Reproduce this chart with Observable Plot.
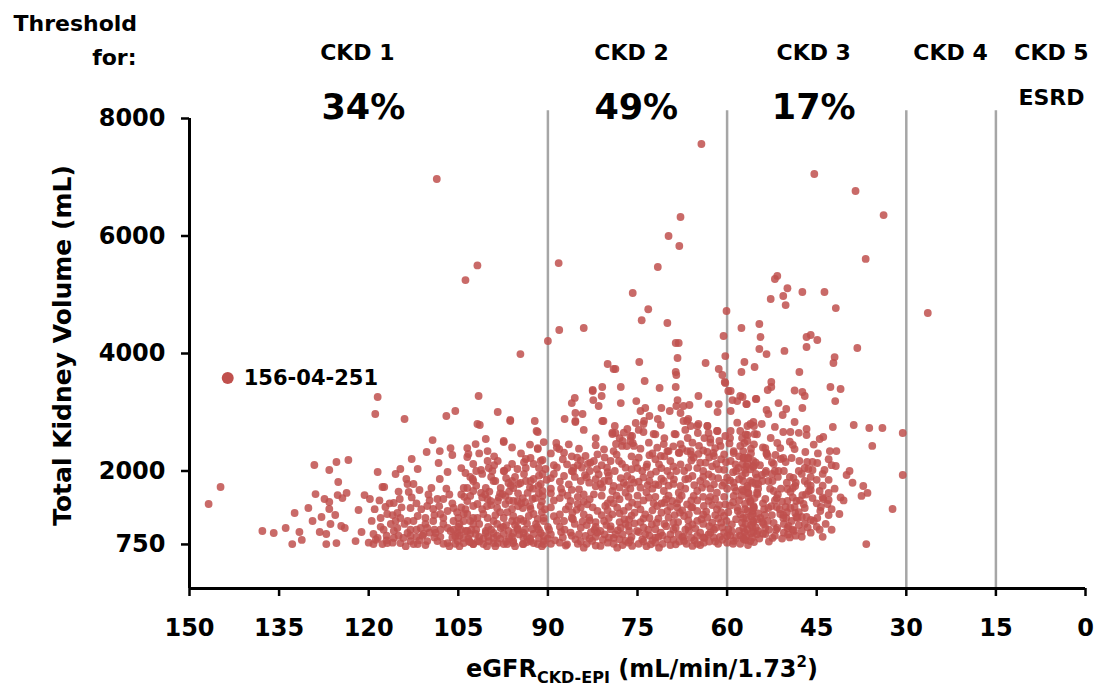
<!DOCTYPE html>
<html><head><meta charset="utf-8">
<script src="https://cdn.jsdelivr.net/npm/d3@7"></script>
<script src="https://cdn.jsdelivr.net/npm/@observablehq/plot@0.6"></script>
<style>html,body{margin:0;padding:0;background:#fff;} svg{display:block;}</style>
</head><body><div id="chart"></div>
<script>
// eGFR (mL/min/1.73²) and total kidney volume (mL)
const patients = [
// upper outliers
[108.6,6970],[101.8,5500],[103.8,5250],[88.2,5540],[88.1,4400],[90.0,4213],[94.6,3991],
[64.3,7566],[45.4,7055],[38.5,6766],[33.8,6357],[67.8,6323],[69.8,6000],[68.0,5830],[71.6,5472],[36.8,5609],[75.8,5030],[51.6,5320],[52.0,5268],[49.9,5111],[47.4,5047],[43.7,5047],[52.7,4928],[50.6,4979],[50.2,4825],[41.8,4774],[73.2,4753],[74.3,4566],[70.0,4519],[60.1,4723],[84.0,4434],[57.6,4434],[54.6,4502],[54.4,4281],[54.6,4077],[53.4,3991],[46.7,4281],[46.0,4315],[44.9,4230],[46.7,4111],[38.2,4094],[42.0,3940],[42.2,3838],[50.4,4043],[60.6,4298],[60.3,3957],[68.6,4179],[68.1,4179],[68.3,3923],[74.7,3855],[80.0,3821],[79.0,3736],[78.7,3736],[63.6,3838],[57.1,3855],[57.6,3685],[55.4,3770],[61.4,3736],[68.6,3685],[68.5,3634],[60.8,3634],[47.9,3685],[73.8,3532],[60.4,3515],[52.6,3515],[52.6,3430],[77.8,3430],[80.9,3430],[82.5,3379],[71.3,3413],[68.6,3430],[42.7,3430],[41.0,3396],[26.4,4689],[59.4,3362],[53.2,3379],
// right side
[38.8,2783],[36.2,2732],[34.0,2732],[30.6,2647],[35.7,2426],[30.6,1932],[37.2,1745],[36.5,1626],[37.5,1575],[32.3,1353],[36.7,757],
[48.7,3370],[47.4,3345],[47.0,3277],[57.4,3260],[55.1,3226],[56.7,3140],[51.4,3157],[41.9,3191],[53.4,3038],[53.1,2970],[50.7,2953],[50.1,3055],[47.4,3072],[48.7,2834],[55.6,2834],[56.1,2800],[56.6,2766],[54.2,2800],[42.3,2749],[46.7,2715],[46.7,2613],[43.9,2579],[44.5,2545],[50.6,2664],[49.4,2664],[55.4,2630],[56.6,2613],[52.7,2562],[42.8,2340],[41.7,2340],[49.0,2443],[48.7,2374],[46.9,2323],[51.6,2477],[53.6,2391],[53.4,2289],[57.1,2477],[41.8,2085],[40.0,1932],[43.7,2017],[44.9,2136],[45.7,2153],[46.6,2153],[47.0,2051],[46.4,2034],[45.7,2017],[47.9,2170],[49.2,2221],[51.0,2204],[51.9,2272],[53.4,2306],[53.2,2255],[50.2,2153],[41.2,1268],[43.0,1626],[43.0,1506],[43.9,1523],[44.5,1660],[46.0,1677],[46.3,1660],[44.3,1387],[44.9,1200],[46.0,1166],[46.7,1217],[47.5,1217],[47.0,1370],[48.4,1217],[48.6,1285],[50.1,1200],[50.6,1251],[48.7,1387],[48.4,1489],[47.4,1591],[48.6,1745],[49.4,1643],[49.9,1694],[49.0,1711],[47.0,1830],[51.7,1540],[51.7,1387],[50.2,1387],[49.7,1064],[52.2,1115],[53.6,1030],[54.1,1132],[55.6,962],[56.9,825],[57.1,962],[57.3,1200],[55.6,1132],[55.7,1268],[55.6,1404],[56.1,1472],[55.4,1540],[56.4,1626],[56.6,1711],[53.7,1251],[53.1,1370],[53.6,1523],[54.8,1779],[54.1,1830],[53.1,1830],[55.2,1949],[54.2,1932],[53.6,1966],[55.6,2068],[56.6,2119],[57.3,2221],
[57.3,2340],[56.4,2221],[57.4,2119],[55.6,2170],[56.9,1966],[56.1,1830],[57.3,1660],[55.2,1779],[56.4,1540],[54.9,1608],[56.6,1319],[55.6,1370],[54.4,1200],[56.9,1098],[55.7,1149],[54.8,979],[53.9,1098],[57.3,860],[56.1,808],[53.6,928],
[51.1,2391],[52.2,2119],[50.6,2221],[52.4,1830],[51.4,2000],[48.9,1881],[52.2,1660],[49.9,1489],[51.1,1268],[49.4,1370],[51.6,1030],[49.9,1030],[52.4,860],[50.6,1200],
[46.5,1779],[45.7,1540],[47.2,1438],[44.4,1319],[43.2,1438],
[54.0,2400],[52.5,2150],[51.5,1900],[50.0,1800],[49.0,1550],[48.0,1300],[47.0,1100],[46.0,950],[45.0,1050],[44.0,880],[52.0,1500],[51.0,1700],[50.5,950],[49.5,870],[48.5,900],[53.0,800],[54.6,850],[52.5,1950],[48.0,2000],[46.0,1900],[44.0,1750],[43.0,1850],[42.0,1700],[41.0,1550],[42.5,1350],[44.8,2300],[43.0,2200],[39.5,2000],[40.5,1500],[39.0,1800],[45.5,2450],[49.5,2500],[48.0,2650],[52.0,2750],
[54.5,2100],[53.5,2000],[52.8,1700],[51.5,1600],[50.8,1480],[50.0,1300],[49.2,1150],[48.0,1080],[47.5,980],[46.5,1040],[45.5,1150],[44.5,1000],[43.5,1100],[54.0,1450],[53.2,1150],[52.5,1250],[51.8,1000],[50.5,1100],[49.0,1000],[48.2,1200],[47.8,1500],[46.8,1600],[45.0,1450],[44.0,1550],[43.0,1250],[42.5,1000],[54.8,1700],[52.0,2000],[50.5,2000],[49.5,1900],[48.5,1800],[47.5,1950],[46.0,1750],[45.0,1850],[44.0,1950],[42.5,2100],[54.8,1280],[53.8,1350],[52.6,1400],[51.2,1350],[55.2,1040],[54.0,930],[53.0,1000],[52.0,900],[50.8,850],[49.8,920],[48.8,980],[47.5,880],
// left side
[146.8,1438],[144.8,1728],[137.8,979],[135.9,945],[133.9,1030],[132.8,757],[131.6,962],[131.2,826],[132.4,1285],[130.1,1370],[129.4,1149],[129.1,2102],[128.9,1608],[127.9,1217],[128.2,962],[127.4,1523],[127.1,928],[127.1,757],[126.6,2017],[126.6,1353],[126.6,1472],[126.4,1098],[125.4,2153],[125.1,1813],[125.6,1251],[125.2,1591],[125.4,774],[124.6,1064],[123.7,1626],[124.0,1030],[123.4,2187],[124.4,1540],[122.2,808],[121.7,1336],[121.2,962],[120.7,1591],[118.5,3260],[118.9,2970],[118.5,1983],[119.8,1523],[119.2,928],[117.7,1728],[117.4,1728],[118.0,1200],[117.7,757],[119.2,757],[117.2,1387],[115.8,1455],[116.3,1098],[115.5,1949],[114.7,2034],[114.8,1523],[114.0,2885],[113.7,1864],[113.5,1779],[113.3,1643],[112.5,1779],[113.0,1370],[112.8,2204],[111.8,2034],[111.5,1677],[111.8,1234],[114.7,1200],[115.2,1030],[115.8,860],[114.7,774],[114.2,860],[113.0,808],[111.8,757],[110.3,2323],[109.3,2527],[108.3,2136],[108.1,2340],[106.8,1983],[107.0,2936],[105.5,3021],[106.3,2391],[106.0,2272],[108.1,1864],[109.5,1711],[110.2,1404],[109.2,1353],[107.5,1523],[108.5,1523],[106.8,1319],[105.8,1370],[105.0,1200],[110.2,1030],[108.8,945],[107.5,1098],[106.3,979],[110.2,808],[108.5,808],[106.8,774],[105.1,808],[104.1,860],[103.5,2391],[103.5,2238],[102.5,2119],[102.1,2459],[101.8,2800],[101.6,3277],[103.8,1966],[103.5,1711],[102.6,1864],[103.0,1575],[102.5,1404],[103.5,1268],[102.5,1098],[103.0,928],[101.8,808],
[116.9,1268],[115.2,1285],[112.5,1149],[111.3,1030],[110.5,1200],[109.2,1149],[108.0,1268],[106.8,1030],[105.8,1149],[104.1,1149],[103.5,979],[115.8,979],[113.5,945],[116.9,774],[112.5,757],[110.8,928],[105.1,945],[102.5,757],
[119.0,1350],[118.0,1050],[117.0,900],[116.0,1250],[115.0,1650],[114.0,1100],[113.0,1000],[112.0,1450],[111.0,900],[110.0,1600],[109.0,1250],[108.0,1000],[107.0,1700],[106.0,1450],[105.0,1050],[104.5,1600],
[120.0,780],[118.5,860],[116.0,780],[113.8,720],[112.0,880],[110.5,740],[109.0,870],[107.5,760],[106.0,870],[104.8,720],
[119.5,1150],[118.2,1500],[117.5,1000],[116.5,1450],[115.5,1150],[114.5,1380],[113.5,1150],[112.8,1550],[112.0,1000],[111.2,1350],[110.5,1100],[109.8,1500],[109.0,1000],[108.2,1400],[107.5,1200],[106.5,1600],[105.8,1000],[105.2,1300],[118.8,830],[117.0,820],[115.0,900],[113.0,900],[111.5,820],[109.8,950],[108.0,880],[106.5,720],[105.5,890],
// 105–88
[100.4,2545],[100.1,2340],[97.4,2493],[96.3,2851],[92.2,2851],[91.9,2681],[90.7,2493],[91.7,2374],[100.1,2170],[99.3,2000],[97.3,2000],[98.8,1830],[97.6,1608],[99.6,1489],[98.5,1370],[97.1,1438],[96.0,2119],[95.1,2034],[93.7,2051],[92.9,2221],[92.4,2119],[91.2,2170],[90.4,2034],[90.9,1949],[96.6,1796],[95.8,1711],[94.9,1779],[93.7,1830],[92.4,1864],[91.6,1745],[93.4,1626],[92.1,1540],[90.9,1660],[95.1,1489],[96.0,1353],[94.2,1370],[92.9,1353],[91.2,1404],[100.1,1200],[99.1,1149],[97.4,1200],[96.0,1149],[94.6,1183],[93.2,1234],[91.7,1183],[90.7,1149],[100.4,979],[99.1,945],[97.9,1030],[96.6,979],[95.1,1030],[94.1,945],[92.6,1013],[91.2,945],[99.9,808],[98.4,774],[96.8,757],[95.8,808],[94.2,757],[92.9,808],[91.7,757],[90.7,808],
[103.3,2289],[98.4,2170],[97.4,2000],[93.7,2204],[91.7,2391],[90.9,2187],[101.2,2017],[99.9,2051],[102.5,1830],[104.1,1711],[102.5,1660],[101.2,1626],[100.4,1711],[99.1,1830],[97.9,1711],[96.0,1830],[94.6,1796],[92.9,1830],[91.2,1779],[103.5,1489],[101.8,1438],[100.1,1523],[98.4,1489],[97.1,1574],[95.8,1489],[94.2,1540],[92.6,1523],[90.9,1574],[104.1,1268],[102.5,1200],[100.8,1268],[95.8,1234],[94.1,1149],[92.4,1268],[90.7,1200],[103.8,979],[102.1,928],[100.4,945],[99.1,860],[97.4,928],[95.8,945],[94.1,860],[92.4,928],[90.7,894],[104.1,774],[102.5,757],[100.8,757],[99.1,774],[97.4,757],[95.8,774],[94.1,757],[92.4,774],[90.7,757],
[104.5,2050],[101.5,2300],[99.0,2250],[96.0,2400],[94.5,2300],[93.0,2450],[89.5,2300],[89.0,2100],
[103.0,1900],[101.0,1950],[99.5,1900],[97.0,1880],[95.5,1900],[94.0,1950],[91.5,1920],[89.5,1880],
[104.0,1560],[102.0,1750],[100.5,1600],[98.0,1620],[96.5,1650],[95.0,1620],[93.0,1720],[91.5,1620],[89.5,1700],[89.0,1500],
[104.5,1380],[101.0,1350],[99.5,1420],[98.0,1300],[96.5,1500],[95.0,1400],[93.8,1470],[91.0,1300],[89.5,1380],
[103.0,1150],[101.5,1100],[100.0,1050],[98.5,1100],[97.0,1080],[95.5,1080],[93.5,1110],[92.0,1100],[90.0,1050],[89.0,1230],
[104.8,900],[103.3,850],[101.5,880],[100.0,880],[98.5,900],[96.0,880],[94.8,920],[93.5,880],[91.5,860],[89.5,920],
[105.5,760],[103.0,790],[101.5,800],[100.2,720],[98.8,720],[97.0,800],[95.5,720],[93.5,790],[91.0,720],[89.5,760],
[104.8,1100],[103.8,1350],[102.8,1000],[101.8,1200],[101.0,1550],[100.2,1400],[99.8,1650],[98.8,1250],[98.2,1550],[97.5,1050],[96.8,1300],[96.2,1750],[95.2,1150],[94.5,1450],[93.8,1000],[93.0,1400],[92.5,1700],[91.8,1050],[91.0,1480],[90.5,1350],[89.8,1000],[90.2,1850],[89.5,1620],[91.5,2050],[94.0,2150],[96.8,2050],[99.0,2100],[102.0,2000],
[104.6,1000],[103.2,800],[102.0,1000],[100.8,850],[99.5,1000],[98.0,850],[96.5,850],[95.0,1000],[93.0,850],[91.5,1000],[90.0,850],
// 90–55 upper
[98.4,3004],[101.4,2783],[96.3,2868],[91.7,2664],[97.4,2511],[88.6,2477],[88.1,2374],[87.2,2885],[85.5,3243],[86.0,3157],[85.4,2987],[84.2,2970],[85.4,2834],[82.5,3362],[82.4,3208],[81.0,3277],[81.5,3106],[77.8,3157],[80.7,2851],[78.8,2766],[78.7,2647],[79.2,2630],[76.7,2715],[76.2,2596],[77.5,2511],[75.8,2477],[76.8,2425],[75.2,3191],[73.7,3072],[74.5,3021],[73.0,2936],[75.3,2817],[74.0,2800],[74.0,2664],[72.3,2630],[68.3,3208],[71.0,3072],[68.5,3106],[69.6,3021],[67.8,2987],[67.3,3106],[66.3,3123],[66.5,2885],[67.3,2851],[64.8,3277],[63.1,3140],[61.4,3140],[61.6,3004],[60.3,3498],[71.6,2885],[71.1,2783],[68.8,2630],[66.1,2766],[64.8,2800],[63.3,2766],[64.9,2647],[63.1,2647],[61.6,2681],[61.3,2511],[62.8,2545],[70.6,2459],[69.8,2340],[67.8,2459],[66.6,2562],[68.0,2306],[66.1,2340],[63.3,2323],[62.3,2306],[59.8,3362],[57.8,3277],[58.3,3191],[56.8,3140],[55.2,3226],[59.1,3208],[59.4,3021],[57.8,2681],[59.4,2681],[58.9,2306],[56.6,2221],[55.6,2085],[58.1,2051],
// 88–55 dense band
[85.4,2851],[80.9,2851],[79.2,2652],[77.3,2652],[75.9,2596],[73.9,2851],[72.0,2624],[68.6,2624],[66.7,2851],[65.0,2766],[63.3,2766],[61.7,2681],[60.3,2596],[58.3,2823],[56.9,2624],[55.5,2766],[55.0,2624],
[84.0,2700],[82.0,2560],[78.0,2560],[74.8,2700],[70.5,2560],[67.0,2700],[63.8,2560],[59.5,2560],[57.5,2560],
[86.5,2454],[87.3,2312],[83.7,2255],[82.3,2170],[80.6,2369],[79.0,2340],[77.6,2426],[76.2,2511],[75.6,2426],[73.1,2482],[71.7,2397],[71.1,2255],[70.0,2340],[68.1,2312],[66.7,2340],[65.8,2482],[64.7,2426],[62.8,2482],[61.1,2426],[60.5,2284],[58.9,2340],[57.8,2426],[56.6,2511],[55.5,2454],
[88.5,2400],[84.8,2380],[82.0,2440],[78.6,2460],[74.5,2380],[72.5,2300],[69.0,2420],[67.5,2380],[64.0,2350],[62.0,2390],[59.6,2470],[56.0,2380],
[86.0,2250],[84.5,2180],[80.5,2230],[78.5,2280],[76.0,2250],[72.0,2200],[70.5,2250],[66.0,2180],[64.8,2290],[61.0,2200],[58.0,2250],[56.0,2300],
[86.8,2113],[85.1,2227],[84.3,2057],[81.7,2284],[79.5,2170],[77.0,2057],[74.8,2227],[73.4,2113],[69.5,2170],[67.8,2113],[65.6,2227],[63.6,2142],[62.2,2255],[59.4,2170],[57.2,2227],[55.2,2142],
[87.5,2200],[85.0,2100],[83.3,2120],[81.8,2030],[80.0,1980],[77.6,2120],[75.0,2050],[73.0,2270],[71.0,2050],[68.5,2000],[66.0,2280],[65.0,2050],[63.0,2230],[61.8,2120],[60.2,2150],[58.5,2000],[57.0,2020],
[88.5,2060],[86.0,2000],[83.0,2000],[81.0,2100],[78.8,2000],[76.0,2030],[73.5,2070],[71.9,1990],[69.0,2080],[66.5,2060],[64.0,2000],[62.5,2080],[60.5,2020],[59.0,1980],[56.8,2080],
[87.3,1915],[85.7,2057],[84.5,1830],[82.9,2142],[81.5,1943],[80.1,2057],[78.1,2170],[76.7,1915],[75.3,2142],[74.2,2000],[72.8,1943],[71.4,2113],[70.0,2000],[68.9,1858],[67.2,2000],[65.8,1915],[64.5,2142],[63.1,1943],[61.4,2028],[60.0,1887],[58.6,2113],[57.5,1915],[56.1,2028],[55.0,1887],
[85.8,1990],[83.8,1930],[81.2,1780],[79.8,1830],[77.3,1800],[74.8,1820],[73.0,1830],[71.5,1760],[69.0,1780],[67.0,1860],[65.5,1760],[63.5,1780],[62.5,1900],[60.5,1800],[58.8,1720],[57.3,1830],
[88.0,1820],[85.5,1900],[83.5,1890],[82.0,1860],[79.8,1920],[77.8,1880],[76.0,1860],[74.0,1890],[71.0,1870],[69.5,1920],[66.5,1870],[64.0,1900],[61.5,1880],[59.5,1840],[58.0,1860],[55.8,1800],
[86.5,1773],[83.1,1801],[80.6,1830],[79.0,1745],[75.6,1801],[72.0,1773],[70.6,1830],[67.8,1745],[64.5,1830],[62.2,1773],[58.9,1801],[56.6,1745],
[86.0,1680],[84.0,1600],[82.0,1740],[79.2,1660],[78.0,1720],[76.2,1700],[73.5,1640],[72.5,1700],[69.8,1580],[67.0,1700],[65.0,1660],[62.8,1700],[60.0,1700],[58.5,1660],[56.5,1620],
[87.6,1631],[86.2,1490],[84.8,1688],[83.4,1433],[82.3,1603],[80.9,1716],[79.5,1518],[78.4,1376],[77.0,1631],[75.9,1461],[74.5,1716],[73.1,1546],[71.7,1404],[70.6,1660],[69.2,1490],[68.1,1631],[66.7,1433],[65.6,1575],[64.2,1716],[63.1,1490],[61.7,1631],[60.3,1433],[58.9,1575],[57.5,1688],[56.1,1490],[55.0,1631],
[89.0,1950],[87.8,1700],[86.7,1580],[85.2,1340],[84.0,1480],[83.0,1160],[82.2,1000],[81.0,1250],[80.0,1450],[79.5,1010],[78.5,1580],[77.2,1180],[76.8,1760],[75.5,1290],[75.0,1580],[74.0,1190],[73.3,1760],[72.3,1450],[71.5,1190],[70.2,1520],[69.8,1750],[68.8,1250],[68.4,1450],[67.6,1580],[66.4,1260],[65.8,1380],[65.0,1500],[64.3,1180],[63.5,1310],[62.8,1560],[62.0,1250],[61.3,1420],[60.8,1750],[60.1,1150],[59.0,1470],[58.2,1320],[57.6,1580],[56.8,1200],[55.5,1380],
[88.0,1540],[85.0,1560],[83.0,1520],[81.0,1580],[78.0,1520],[76.5,1560],[74.0,1500],[72.0,1560],[70.5,1460],[68.0,1520],[66.0,1500],[64.0,1560],[62.0,1520],[60.5,1560],[58.0,1500],[57.0,1440],
[86.5,1400],[85.0,1440],[82.5,1380],[80.0,1330],[79.0,1450],[76.5,1390],[75.0,1430],[72.5,1330],[71.0,1450],[69.5,1390],[67.5,1330],[66.0,1380],[62.5,1420],[61.0,1300],[59.5,1410],[57.0,1350],
[87.0,1348],[84.5,1376],[81.7,1320],[80.4,1404],[77.3,1320],[74.5,1348],[70.0,1320],[68.3,1376],[65.0,1320],[63.9,1404],[61.7,1348],[58.3,1376],[55.8,1320],
[88.0,1260],[86.0,1200],[84.0,1260],[82.0,1130],[79.8,1200],[78.0,1280],[76.0,1240],[74.5,1130],[73.0,1200],[71.0,1290],[69.0,1120],[67.9,1290],[66.5,1160],[64.0,1260],[62.5,1120],[61.5,1190],[59.8,1300],[58.5,1180],[56.0,1230],
[87.3,1149],[85.9,1291],[84.5,1036],[83.1,1206],[81.7,951],[80.6,1149],[79.2,1263],[77.8,1036],[76.4,1177],[75.1,979],[73.7,1263],[72.6,1092],[71.1,951],[69.8,1206],[68.6,1036],[67.2,1234],[65.8,1092],[64.5,951],[63.3,1206],[61.9,1036],[60.5,1234],[59.2,1092],[57.8,1263],[56.6,1007],[55.0,1177],
[88.5,1150],[87.2,1000],[85.8,1180],[84.2,1140],[82.8,960],[80.2,1080],[78.3,990],[77.0,1100],[75.5,1110],[73.2,1000],[71.8,1120],[70.2,1060],[68.2,1130],[67.0,1000],[65.3,1020],[64.0,1100],[62.2,1000],[60.8,1040],[59.2,970],[57.3,1030],[55.8,1050],
[88.0,1050],[85.5,1100],[83.5,1080],[82.0,1050],[79.5,1060],[78.0,1130],[76.5,1060],[74.0,1040],[72.0,1010],[70.5,1100],[69.0,1000],[66.5,1050],[65.0,1150],[63.0,1060],[61.0,1120],[59.8,1010],[57.5,1120],[56.0,1080],
[86.2,951],[83.7,894],[81.2,979],[78.7,922],[76.4,979],[73.7,922],[72.0,865],[68.1,922],[66.4,979],[63.1,922],[60.0,894],[58.0,979],[55.0,922],
[87.5,870],[86.0,900],[84.8,920],[82.0,880],[80.5,920],[79.0,860],[77.5,920],[76.0,880],[74.8,960],[73.0,900],[71.5,880],[69.5,920],[67.5,880],[66.0,860],[64.0,870],[62.8,950],[61.2,880],[59.5,900],[57.8,900],[56.0,940],
[88.8,820],[87.8,960],[84.5,800],[83.0,850],[80.8,830],[78.0,840],[76.2,820],[74.0,800],[72.5,820],[70.8,900],[69.0,830],[67.2,880],[65.5,820],[63.8,860],[62.0,800],[60.8,830],[58.5,860],[56.8,900],[55.5,790],
[86.8,752],[85.4,837],[84.0,695],[82.6,809],[81.2,724],[79.8,865],[78.4,695],[77.0,809],[75.9,724],[74.2,837],[72.8,752],[71.4,695],[70.0,837],[68.6,752],[67.2,809],[65.8,724],[65.0,894],[63.9,780],[62.2,865],[60.5,951],[58.9,809],[57.2,837],[55.8,865],
[88.0,780],[87.0,730],[85.0,760],[83.5,760],[82.0,730],[80.0,780],[79.0,760],[77.5,740],[76.5,780],[74.8,760],[73.5,720],[72.0,780],[70.8,760],[69.5,740],[68.0,800],[66.8,760],[65.0,760],[64.5,740],[63.0,800],[61.5,760],[60.0,780],[59.0,760],[57.8,760],[56.5,740]
];
const highlightId = ["156-04-251"];
const highlightEgfr = [143.6];
const highlightTkv = [3583];

const xTicks = [150, 135, 120, 105, 90, 75, 60, 45, 30, 15, 0];
const yTicks = [750, 2000, 4000, 6000, 8000];
const thresholds = [90, 60, 30, 15];
const stageLabels = ["CKD 1", "CKD 2", "CKD 3", "CKD 4", "CKD 5"];
const stageCenters = [121.9, 76.0, 45.5, 22.6, 5.7];
const shareLabels = ["34%", "49%", "17%"];
const shareCenters = [120.9, 75.2, 45.5];
const esrdLabel = ["ESRD"];
const esrdCenter = [5.7];

const data = patients.map(([e, t]) => ({e, t}));
const hl = highlightId.map((id, i) => ({id, e: highlightEgfr[i], t: highlightTkv[i]}));

const chart = Plot.plot({
  width: 1098, height: 688,
  marginLeft: 189, marginRight: 13, marginTop: 118, marginBottom: 100,
  style: {fontFamily: "'DejaVu Sans', sans-serif", fontWeight: "bold", fontSize: "24px", color: "black", background: "white", overflow: "visible"},
  x: {domain: [150, 0], label: null},
  y: {domain: [0, 8000], label: null},
  marks: [
    Plot.ruleX(thresholds, {y1: 0, y2: 8130, stroke: "#a6a6a6", strokeWidth: 2.5}),
    Plot.dot(data, {x: "e", y: "t", r: 3.9, fill: "#c0504d", fillOpacity: 0.85, stroke: "none"}),
    Plot.ruleX([150], {y1: 0, y2: 8000, stroke: "black", strokeWidth: 3}),
    Plot.ruleY([0], {stroke: "black", strokeWidth: 3}),
    Plot.axisX({ticks: xTicks, tickSize: 8, tickPadding: 22, strokeWidth: 2.5, label: null, fontSize: 24}),
    Plot.axisY({ticks: yTicks, tickSize: 8, tickPadding: 16, strokeWidth: 2.5, tickFormat: d => String(d), label: null, fontSize: 24}),
    Plot.dot(hl, {x: "e", y: "t", r: 6, fill: "#c0504d", stroke: "none"}),
    Plot.text(hl, {x: "e", y: "t", text: "id", dx: 16, textAnchor: "start", fontSize: 21}),
    Plot.text(stageLabels, {x: stageCenters, text: stageLabels, frameAnchor: "top", lineAnchor: "middle", dy: -66, fontSize: 22}),
    Plot.text(shareLabels, {x: shareCenters, text: shareLabels, frameAnchor: "top", lineAnchor: "middle", dy: -11, fontSize: 35}),
    Plot.text(esrdLabel, {x: esrdCenter, text: esrdLabel, frameAnchor: "top", lineAnchor: "middle", dy: -21, fontSize: 22}),
    Plot.text(["Threshold"], {frameAnchor: "top-left", textAnchor: "start", lineAnchor: "middle", dx: -176, dy: -95, fontSize: 22}),
    Plot.text(["for:"], {frameAnchor: "top-left", textAnchor: "end", lineAnchor: "middle", dx: -53, dy: -61, fontSize: 22}),
    Plot.text(["Total Kidney Volume (mL)"], {frameAnchor: "left", textAnchor: "middle", rotate: -90, lineAnchor: "middle", dx: -127, dy: -8, fontSize: 25})
  ]
});
document.getElementById("chart").appendChild(chart);

// x-axis title with subscript and superscript
const xr = chart.scale("x").range;
const cx = (xr[0] + xr[1]) / 2 + 5;
const title = d3.select(chart).append("text")
  .attr("x", cx).attr("y", 677)
  .attr("text-anchor", "middle")
  .attr("font-size", 24).attr("font-weight", "bold").attr("fill", "black");
title.append("tspan").text("eGFR");
title.append("tspan").attr("font-size", 16).attr("dy", 6).text("CKD-EPI");
title.append("tspan").attr("dy", -6).text(" (mL/min/1.73");
title.append("tspan").attr("font-size", 15).attr("dy", -10).text("2");
title.append("tspan").attr("dy", 10).text(")");
</script>
</body></html>
